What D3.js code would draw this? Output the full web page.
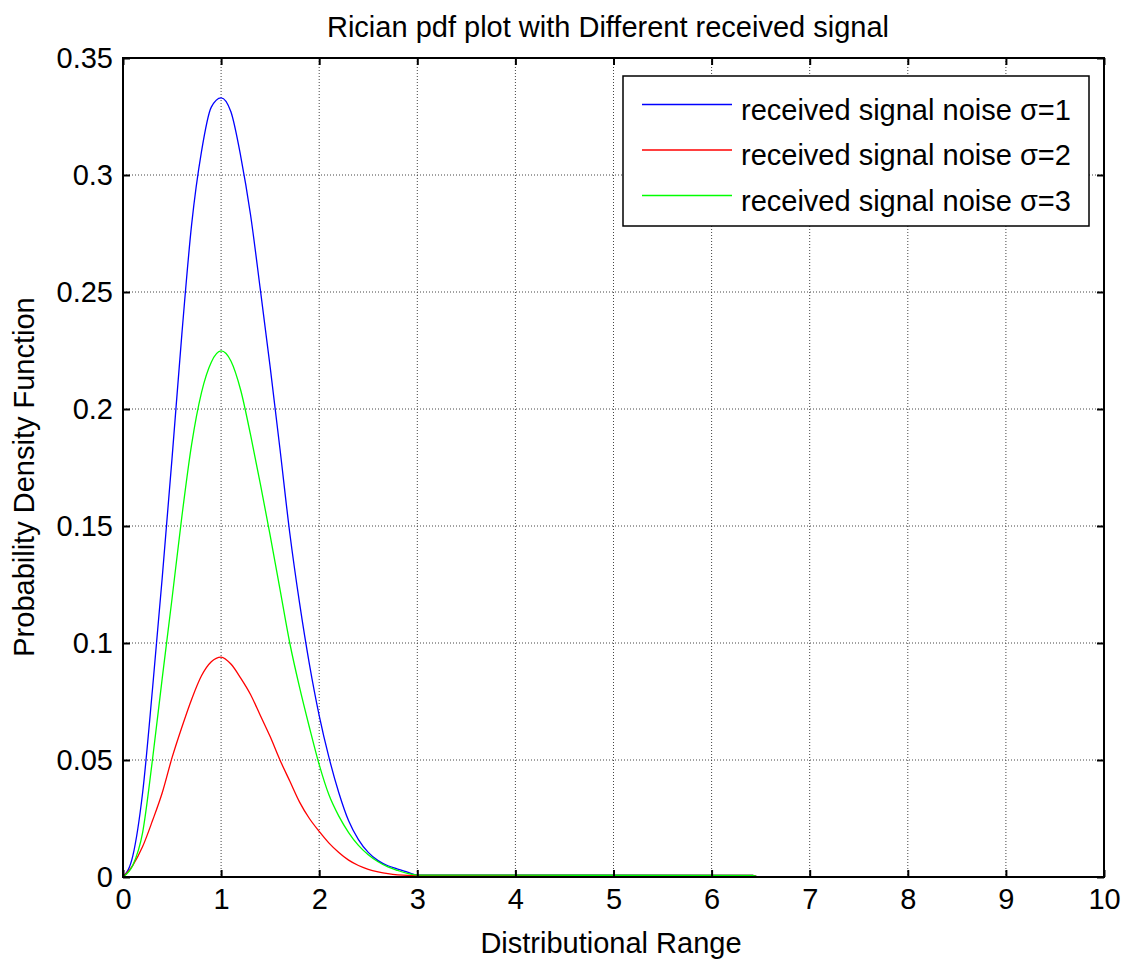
<!DOCTYPE html>
<html>
<head>
<meta charset="utf-8">
<script src="https://cdn.jsdelivr.net/npm/d3@7"></script>
<style>
  html, body { margin: 0; padding: 0; background: #fff; }
  svg { display: block; font-family: "Liberation Sans", Arial, sans-serif; }
</style>
</head>
<body>
<svg id="chart" width="1121" height="962"></svg>
<script>
// ---- data ----
const xValues = [0, 0.1, 0.2, 0.3, 0.4, 0.5, 0.6, 0.7, 0.8, 0.9, 1.0,
  1.1, 1.2, 1.3, 1.4, 1.5, 1.6, 1.7, 1.8, 1.9, 2.0,
  2.1, 2.2, 2.3, 2.4, 2.5, 2.6, 2.7, 2.8, 2.9, 3.0,
  6.42, 6.47, 10];

const sigma1 = [0, 0.009, 0.036, 0.080, 0.128, 0.179, 0.232, 0.279, 0.310, 0.329, 0.333,
  0.327, 0.308, 0.283, 0.251, 0.218, 0.183, 0.147, 0.117, 0.091, 0.069,
  0.051, 0.036, 0.024, 0.016, 0.0105, 0.0070, 0.0048, 0.0034, 0.0021, 0.0008,
  0.0007, 0, 0];

const sigma2 = [0, 0.005, 0.013, 0.024, 0.036, 0.051, 0.064, 0.076, 0.086, 0.092, 0.094,
  0.091, 0.085, 0.078, 0.069, 0.060, 0.050, 0.041, 0.032, 0.025, 0.0195,
  0.0145, 0.0105, 0.0072, 0.0049, 0.0033, 0.0022, 0.0014, 0.0009, 0.0007, 0.0007,
  0.0007, 0, 0];

const sigma3 = [0, 0.005, 0.019, 0.050, 0.085, 0.119, 0.154, 0.185, 0.207, 0.220, 0.2248,
  0.2205, 0.208, 0.189, 0.168, 0.146, 0.123, 0.100, 0.081, 0.064, 0.048,
  0.035, 0.026, 0.019, 0.0135, 0.0095, 0.0065, 0.0043, 0.0028, 0.0015, 0.0008,
  0.0007, 0, 0];

const seriesNames = ["received signal noise \u03C3=1", "received signal noise \u03C3=2", "received signal noise \u03C3=3"];
const seriesColors = ["#0000ff", "#ff0000", "#00ff00"];
const xTicks = [0, 1, 2, 3, 4, 5, 6, 7, 8, 9, 10];
const yTicks = [0, 0.05, 0.1, 0.15, 0.2, 0.25, 0.3, 0.35];
const yTickLabels = ["0", "0.05", "0.1", "0.15", "0.2", "0.25", "0.3", "0.35"];
const titleText = "Rician pdf plot with Different received signal";
const xLabel = "Distributional Range";
const yLabel = "Probability Density Function";

// ---- layout ----
const FS = 29;
const svg = d3.select("#chart");
const pL = 123, pR = 1104, pT = 58, pB = 877;
const x = d3.scaleLinear().domain([0, 10]).range([pL, pR]);
const y = d3.scaleLinear().domain([0, 0.35]).range([pB, pT]);

// grid
const grid = svg.append("g");
grid.selectAll("line.gx").data(xTicks.slice(1, -1)).enter().append("line")
  .attr("x1", d => x(d)).attr("x2", d => x(d)).attr("y1", pT).attr("y2", pB)
  .attr("stroke", "#444").attr("stroke-width", 1).attr("stroke-dasharray", "1,2");
grid.selectAll("line.gy").data(yTicks.slice(1, -1)).enter().append("line")
  .attr("y1", d => y(d)).attr("y2", d => y(d)).attr("x1", pL).attr("x2", pR)
  .attr("stroke", "#444").attr("stroke-width", 1).attr("stroke-dasharray", "1,2");

// series
const series = [sigma1, sigma2, sigma3];
const line = d3.line().x((d, i) => x(xValues[i])).y(d => y(d)).curve(d3.curveMonotoneX);
series.forEach((s, k) => {
  svg.append("path").datum(s).attr("d", line)
    .attr("fill", "none").attr("stroke", seriesColors[k]).attr("stroke-width", 1.3);
});

// axes with inward ticks on all sides
const tickLen = 7;
const axB = svg.append("g").attr("transform", `translate(0,${pB})`)
  .call(d3.axisBottom(x).tickValues(xTicks).tickSize(-tickLen).tickPadding(11).tickFormat(d3.format("d")));
const axT = svg.append("g").attr("transform", `translate(0,${pT})`)
  .call(d3.axisTop(x).tickValues(xTicks).tickSize(-tickLen).tickFormat(""));
const axL = svg.append("g").attr("transform", `translate(${pL},0)`)
  .call(d3.axisLeft(y).tickValues(yTicks).tickSize(-tickLen).tickPadding(10).tickFormat((d, i) => yTickLabels[i]));
const axR = svg.append("g").attr("transform", `translate(${pR},0)`)
  .call(d3.axisRight(y).tickValues(yTicks).tickSize(-tickLen).tickFormat(""));
[axB, axT, axL, axR].forEach(a => {
  a.select(".domain").remove();
  a.selectAll(".tick line").attr("stroke", "#000").attr("stroke-width", 2);
  a.selectAll(".tick text").attr("fill", "#000").attr("font-size", FS)
    .attr("font-family", "Liberation Sans, Arial, sans-serif");
});

// box
svg.append("rect").attr("x", pL).attr("y", pT).attr("width", pR - pL).attr("height", pB - pT)
  .attr("fill", "none").attr("stroke", "#000").attr("stroke-width", 2);

// title & labels
svg.append("text").attr("x", 608).attr("y", 37).attr("text-anchor", "middle")
  .attr("font-size", FS).attr("fill", "#000").text(titleText);
svg.append("text").attr("x", 611).attr("y", 953).attr("text-anchor", "middle")
  .attr("font-size", FS).attr("fill", "#000").text(xLabel);
svg.append("text").attr("transform", `translate(34,477) rotate(-90)`)
  .attr("text-anchor", "middle").attr("font-size", FS).attr("fill", "#000").text(yLabel);

// legend
const lg = svg.append("g");
lg.append("rect").attr("x", 623).attr("y", 76).attr("width", 466).attr("height", 150)
  .attr("fill", "#fff").attr("stroke", "#000").attr("stroke-width", 1.5);
seriesNames.forEach((name, k) => {
  const cy = 104.5 + k * 45.5;
  lg.append("line").attr("x1", 642).attr("x2", 732).attr("y1", cy).attr("y2", cy)
    .attr("stroke", seriesColors[k]).attr("stroke-width", 1.3);
  lg.append("text").attr("x", 741).attr("y", cy + 15).attr("font-size", FS).attr("fill", "#000").text(name);
});
</script>
</body>
</html>
